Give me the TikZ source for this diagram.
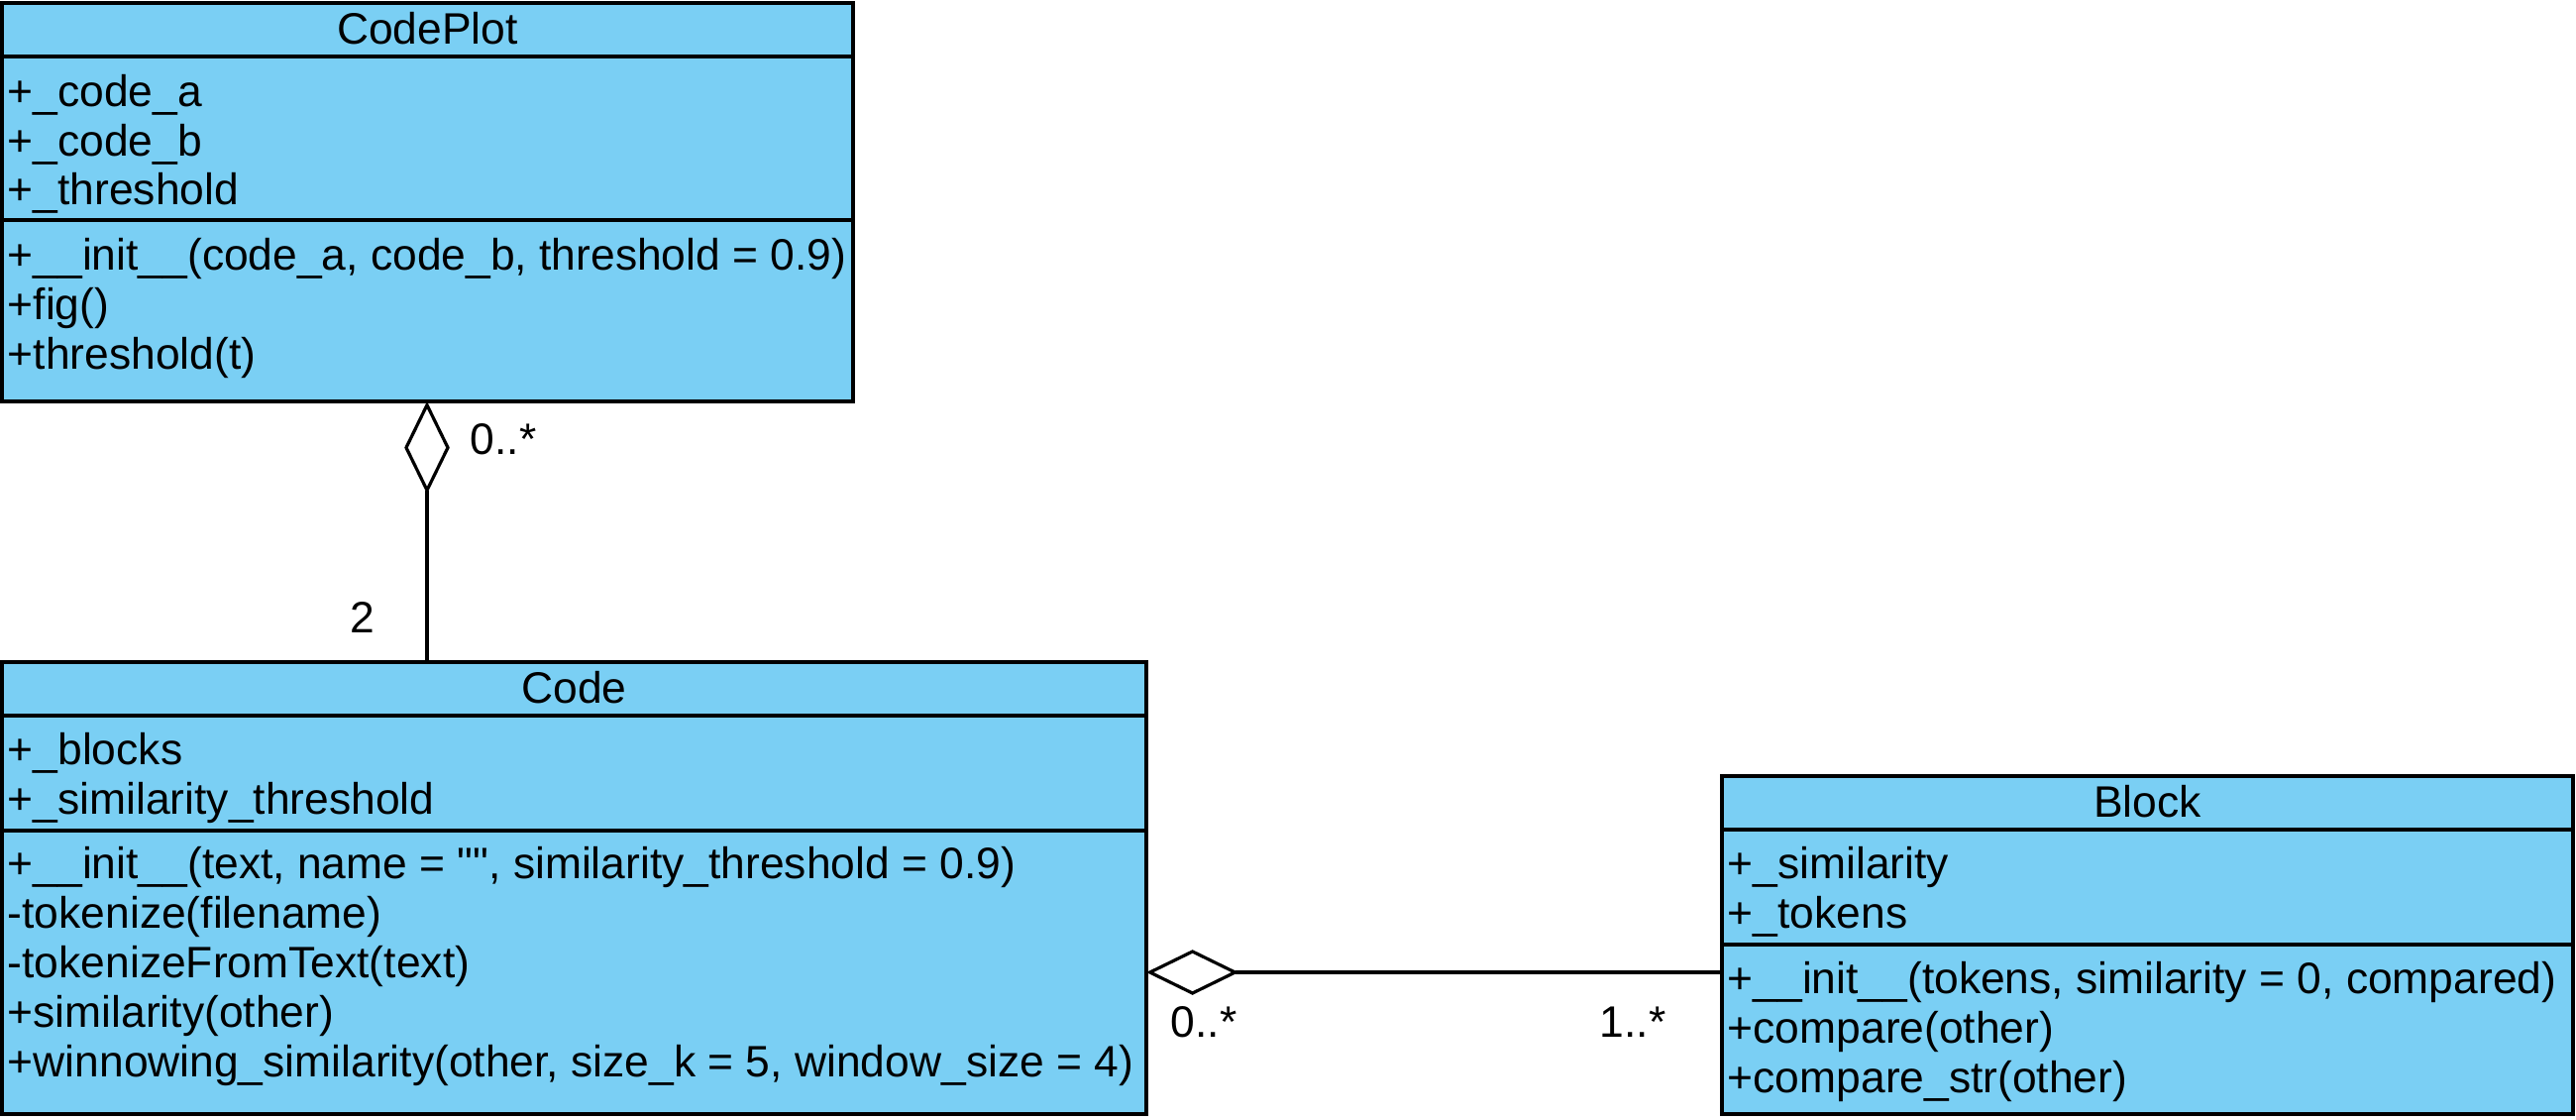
\documentclass[tikz,border=0pt]{standalone}
\usepackage{fontspec}
\setmainfont{Liberation Sans}[Ligatures=TeXOff]
\usetikzlibrary{arrows.meta}
\definecolor{clsblue}{HTML}{7ACFF4}
\begin{document}
\begin{tikzpicture}[x=0.25pt,y=-0.25pt,
  classbox/.style={draw=black,fill=clsblue,line width=0.9pt,inner sep=0pt,outer sep=0pt,anchor=north west},
  sepline/.style={draw=black,line width=0.9pt},
  member/.style={anchor=base west,inner sep=0pt,font=\fontsize{11.1}{13}\selectfont},
  ctitle/.style={anchor=base,inner sep=0pt,font=\fontsize{11.1}{13}\selectfont},
  mult/.style={anchor=center,inner sep=0pt,font=\fontsize{11.1}{13}\selectfont},
  agg/.style={draw=black,line width=0.8pt,-{Diamond[open,length=23.3pt,width=11.4pt]}}]
\useasboundingbox (0,0) rectangle (2600,1129);

% ---------- CodePlot ----------
\node[classbox,minimum width=214.75pt,minimum height=100.5pt] (cp) at (2,3) {};
\draw[sepline] (2,57) -- (861,57);
\draw[sepline] (2,222) -- (861,222);
\node[ctitle] (cpt) at (431.5,44) {CodePlot};
\node[member] (cpa1) at (7,107) {+\_code\_a};
\node[member] (cpa2) at (7,157) {+\_code\_b};
\node[member] (cpa3) at (7,206) {+\_threshold};
\node[member] (cpm1) at (7,272) {+\_\_init\_\_(code\_a, code\_b, threshold = 0.9)};
\node[member] (cpm2) at (7,322) {+fig()};
\node[member] (cpm3) at (7,372) {+threshold(t)};

% ---------- Code ----------
\node[classbox,minimum width=288.75pt,minimum height=114pt] (code) at (2,668) {};
\draw[sepline] (2,722) -- (1157,722);
\draw[sepline] (2,838) -- (1157,838);
\node[ctitle] (codet) at (579.5,709) {Code};
\node[member] (ca1) at (7,771) {+\_blocks};
\node[member] (ca2) at (7,821) {+\_similarity\_threshold};
\node[member] (cm1) at (7,886) {+\_\_init\_\_(text, name = "", similarity\_threshold = 0.9)};
\node[member] (cm2) at (7,936) {-tokenize(filename)};
\node[member] (cm3) at (7,986) {-tokenizeFromText(text)};
\node[member] (cm4) at (7,1036) {+similarity(other)};
\node[member] (cm5) at (7,1086) {+winnowing\_similarity(other, size\_k = 5, window\_size = 4)};

% ---------- Block ----------
\node[classbox,minimum width=214.75pt,minimum height=85.25pt] (block) at (1738,783) {};
\draw[sepline] (1738,837) -- (2597,837);
\draw[sepline] (1738,953) -- (2597,953);
\node[ctitle] (blockt) at (2167.5,824) {Block};
\node[member] (ba1) at (1743,886) {+\_similarity};
\node[member] (ba2) at (1743,936) {+\_tokens};
\node[member] (bm1) at (1743,1002) {+\_\_init\_\_(tokens, similarity = 0, compared)};
\node[member] (bm2) at (1743,1052) {+compare(other)};
\node[member] (bm3) at (1743,1102) {+compare\_str(other)};

% ---------- connectors ----------
\coordinate (vx) at (431,0);
\coordinate (hy) at (0,981);
\draw[agg] (vx |- code.north) -- (vx |- cp.south);
\draw[agg] (block.west |- hy) -- (code.east |- hy);

% ---------- multiplicities ----------
\node[mult] (m1) at (508,443) {0..*};
\node[mult] (m2) at (366,623) {2};
\node[mult] (m3) at (1215,1031) {0..*};
\node[mult] (m4) at (1648,1031) {1..*};
\end{tikzpicture}
\end{document}
